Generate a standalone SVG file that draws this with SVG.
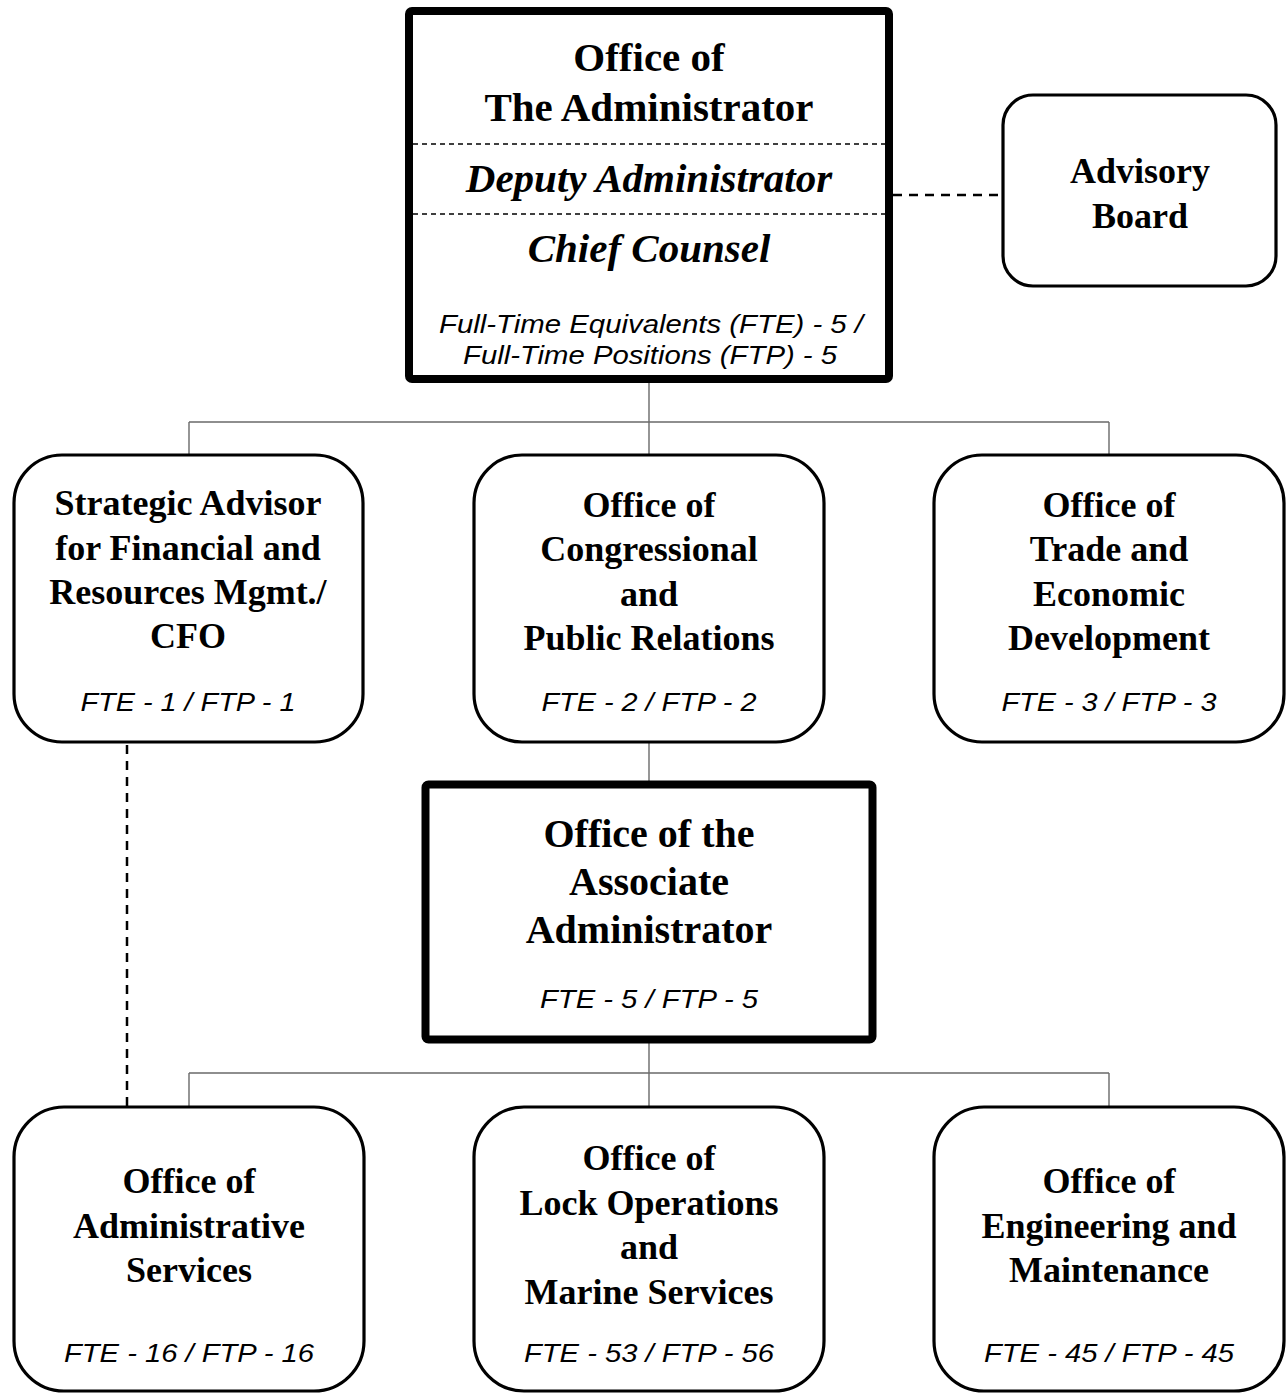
<svg xmlns="http://www.w3.org/2000/svg" width="1286" height="1393" viewBox="0 0 1286 1393">
<style>
.t{font-family:"Liberation Serif","Times New Roman",serif;font-weight:bold;font-size:36px;text-anchor:middle;fill:#000}
.tl{font-size:41px}
.ti{font-style:italic}
.f{font-family:"Liberation Sans",Arial,sans-serif;font-style:italic;font-size:25.5px;text-anchor:middle;fill:#000}
.heavy{fill:#fff;stroke:#000;stroke-width:8}
.rr{fill:#fff;stroke:#000;stroke-width:3.2}
.con{fill:none;stroke:#6a6a6a;stroke-width:1.4}
.dash{fill:none;stroke:#000;stroke-width:2.5;stroke-dasharray:9 7}
.idash{fill:none;stroke:#000;stroke-width:1.5;stroke-dasharray:5 4}
</style>
<rect width="1286" height="1393" fill="#fff"/>
<g id="connectors">
<path class="con" d="M649 383V422M189 422H1109M189 422V455M649 422V455M1109 422V455"/>
<path class="con" d="M649 743V781"/>
<path class="con" d="M649 1043V1073M189 1073H1109M189 1073V1106M649 1073V1106M1109 1073V1106"/>
<path class="dash" d="M893 195H1002"/>
<path class="dash" d="M127 745V1106"/>
</g>
<g id="administrator">
<rect class="heavy" x="409" y="11" width="480" height="368" rx="3"/>
<path class="idash" d="M413 144H885M413 214H885"/>
<text class="t tl" x="649" y="71">Office of</text>
<text class="t tl" x="649" y="121">The Administrator</text>
<text class="t tl ti" x="649" y="192">Deputy Administrator</text>
<text class="t tl ti" x="649" y="262">Chief Counsel</text>
<text class="f" x="651" y="333" textLength="424" lengthAdjust="spacingAndGlyphs">Full-Time Equivalents (FTE) - 5 /</text>
<text class="f" x="650" y="364" textLength="374" lengthAdjust="spacingAndGlyphs">Full-Time Positions (FTP) - 5</text>
</g>
<g id="advisory-board">
<rect class="rr" x="1003" y="95" width="273" height="191" rx="30" stroke-width="2"/>
<text class="t" x="1140" y="183">Advisory</text>
<text class="t" x="1140" y="228">Board</text>
</g>
<g id="cfo">
<rect class="rr" x="14" y="455" width="349" height="287" rx="48"/>
<text class="t" x="188" y="515">Strategic Advisor</text>
<text class="t" x="188" y="560">for Financial and</text>
<text class="t" x="188" y="604">Resources Mgmt./</text>
<text class="t" x="188" y="648">CFO</text>
<text class="f" x="188" y="711" textLength="215" lengthAdjust="spacingAndGlyphs">FTE - 1 / FTP - 1</text>
</g>
<g id="congressional">
<rect class="rr" x="474" y="455" width="350" height="287" rx="48"/>
<text class="t" x="649" y="517">Office of</text>
<text class="t" x="649" y="561">Congressional</text>
<text class="t" x="649" y="606">and</text>
<text class="t" x="649" y="650">Public Relations</text>
<text class="f" x="649" y="711" textLength="215" lengthAdjust="spacingAndGlyphs">FTE - 2 / FTP - 2</text>
</g>
<g id="trade">
<rect class="rr" x="934" y="455" width="350" height="287" rx="48"/>
<text class="t" x="1109" y="517">Office of</text>
<text class="t" x="1109" y="561">Trade and</text>
<text class="t" x="1109" y="606">Economic</text>
<text class="t" x="1109" y="650">Development</text>
<text class="f" x="1109" y="711" textLength="215" lengthAdjust="spacingAndGlyphs">FTE - 3 / FTP - 3</text>
</g>
<g id="associate">
<rect class="heavy" x="425.5" y="784.5" width="447" height="255" rx="3" stroke-width="7"/>
<text class="t" x="649" y="847" style="font-size:40px">Office of the</text>
<text class="t" x="649" y="895" style="font-size:40px">Associate</text>
<text class="t" x="649" y="943" style="font-size:40px">Administrator</text>
<text class="f" x="649" y="1008" textLength="218" lengthAdjust="spacingAndGlyphs">FTE - 5 / FTP - 5</text>
</g>
<g id="admin-services">
<rect class="rr" x="14" y="1107" width="350" height="284" rx="50"/>
<text class="t" x="189" y="1193">Office of</text>
<text class="t" x="189" y="1238">Administrative</text>
<text class="t" x="189" y="1282">Services</text>
<text class="f" x="189" y="1362" textLength="250" lengthAdjust="spacingAndGlyphs">FTE - 16 / FTP - 16</text>
</g>
<g id="lock-operations">
<rect class="rr" x="474" y="1107" width="350" height="284" rx="50"/>
<text class="t" x="649" y="1170">Office of</text>
<text class="t" x="649" y="1215">Lock Operations</text>
<text class="t" x="649" y="1259">and</text>
<text class="t" x="649" y="1304">Marine Services</text>
<text class="f" x="649" y="1362" textLength="250" lengthAdjust="spacingAndGlyphs">FTE - 53 / FTP - 56</text>
</g>
<g id="engineering">
<rect class="rr" x="934" y="1107" width="350" height="284" rx="50"/>
<text class="t" x="1109" y="1193">Office of</text>
<text class="t" x="1109" y="1238">Engineering and</text>
<text class="t" x="1109" y="1282">Maintenance</text>
<text class="f" x="1109" y="1362" textLength="250" lengthAdjust="spacingAndGlyphs">FTE - 45 / FTP - 45</text>
</g>
</svg>
